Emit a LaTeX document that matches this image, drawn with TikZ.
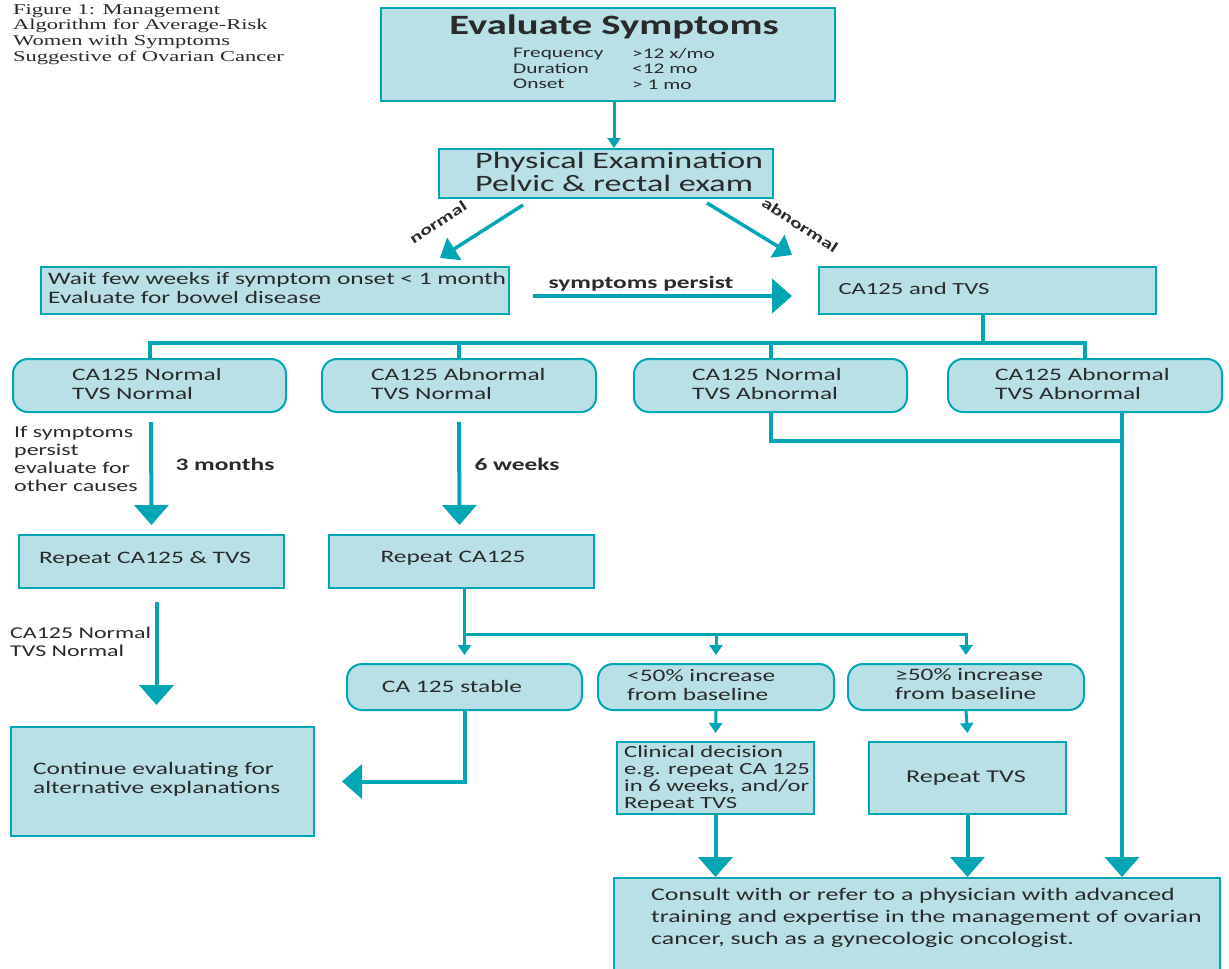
\documentclass[tikz,border=0pt]{standalone}
\usepackage{fontspec}
\usetikzlibrary{arrows.meta,calc}
\newfontfamily\bodyf[FakeStretch=1.45]{Carlito}
\newfontfamily\serf[FakeStretch=1.5]{Liberation Serif}
\definecolor{tealc}{HTML}{00A6B4}
\definecolor{fillc}{HTML}{B8E0E6}
\definecolor{txtc}{HTML}{2A2A2A}
\newcommand\fsz[2]{\fontsize{#1}{#2}\selectfont}
\begin{document}
\begin{tikzpicture}[x=1pt,y=-1pt,
  sq/.style={draw=tealc, line width=2pt, fill=fillc, inner sep=0pt, anchor=north west},
  rd/.style={sq, rounded corners=15pt},
  txt/.style={inner sep=0pt, text=txtc, font=\bodyf\fsz{17.5}{18.5}, align=left},
  lbl/.style={inner sep=0pt, text=txtc, font=\bodyf\bfseries\fsz{17.5}{19}},
  conn/.style={draw=tealc, line width=4pt},
  big/.style={conn, -{Triangle[width=34pt,length=20pt]}},
  mid/.style={draw=tealc, line width=3.5pt, -{Triangle[width=26pt,length=17pt]}},
  small/.style={draw=tealc, line width=3pt, -{Triangle[width=13pt,length=10pt]}}]
\useasboundingbox (0,0) rectangle (1229,969);
\fill[white] (0,0) rectangle (1229,969);

% boxes
\node[sq, minimum width=454pt, minimum height=93pt] (eval) at (380,7) {};
\node[sq, minimum width=334pt, minimum height=49pt] (phys) at (438,148) {};
\node[sq, minimum width=468pt, minimum height=47pt] (wait) at (40,266) {};
\node[sq, minimum width=337pt, minimum height=47pt] (cat) at (818,266) {};
\node[rd, minimum width=273pt, minimum height=53pt] (b1) at (12,358) {};
\node[rd, minimum width=274pt, minimum height=53pt] (b2) at (321,358) {};
\node[rd, minimum width=273pt, minimum height=53pt] (b3) at (633,358) {};
\node[rd, minimum width=274pt, minimum height=53pt] (b4) at (947,358) {};
\node[sq, minimum width=265pt, minimum height=53pt] (r1) at (18,534) {};
\node[sq, minimum width=265pt, minimum height=53pt] (r2) at (328,534) {};
\node[sq, minimum width=303pt, minimum height=109pt] (cont) at (10,726) {};
\node[rd, minimum width=235pt, minimum height=46pt] (s1) at (346,663) {};
\node[rd, minimum width=236pt, minimum height=46pt] (s2) at (597,663) {};
\node[rd, minimum width=236pt, minimum height=46pt] (s3) at (847,663) {};
\node[sq, minimum width=197pt, minimum height=72pt] (cd) at (616,741) {};
\node[sq, minimum width=197pt, minimum height=72pt] (rt) at (868,741) {};
\node[sq, minimum width=606pt, minimum height=100pt] (cons) at (613,877) {};

% texts
\node[inner sep=0pt, anchor=north west, align=left, text=txtc, font=\serf\fsz{15}{15.7}] (ttl) at (13,4)
  {Figure 1: Management\\Algorithm for Average-Risk\\Women with Symptoms\\Suggestive of Ovarian Cancer};
\node[txt, font=\bodyf\bfseries\fsz{28}{30}] (teval) at (614,27) {Evaluate Symptoms};
\node[txt, anchor=north west, font=\bodyf\fsz{14.7}{15.5}] (tfreq) at (513,48) {Frequency\\Duration\\Onset};
\node[txt, anchor=north west, font=\bodyf\fsz{14.7}{15.5}] (tfreqv) at (632,48) {>12 x/mo\\<12 mo\\> 1 mo};
\node[txt, anchor=west, font=\bodyf\fsz{23.5}{23}] (tphys) at (475,172) {Physical Examination\\Pelvic \& rectal exam};
\node[txt, anchor=west, font=\bodyf\fsz{17.5}{19}] (twait) at (48,288) {Wait few weeks if symptom onset < 1 month\\Evaluate for bowel disease};
\node[lbl] (tsp) at (641,284) {symptoms persist};
\node[txt, font=\bodyf\fsz{17}{18}] (tcat) at (914,289) {CA125 and TVS};
\node[txt, anchor=west] (tb1) at (72,384) {CA125 Normal\\TVS Normal};
\node[txt, anchor=west] (tb2) at (371,384) {CA125 Abnormal\\TVS Normal};
\node[txt, anchor=west] (tb3) at (692,384) {CA125 Normal\\TVS Abnormal};
\node[txt, anchor=west] (tb4) at (995,384) {CA125 Abnormal\\TVS Abnormal};
\node[txt, anchor=north west, font=\bodyf\fsz{16.5}{18}] (tif) at (14,426) {If symptoms\\persist\\evaluate for\\other causes};
\node[lbl] (t3m) at (225,464) {3 months};
\node[lbl] (t6w) at (517,464) {6 weeks};
\node[txt] (tr1) at (145,559) {Repeat CA125 \& TVS};
\node[txt] (tr2) at (453,558) {Repeat CA125};
\node[txt, anchor=north west, font=\bodyf\fsz{16.5}{18}] (tnn) at (10,627) {CA125 Normal\\TVS Normal};
\node[txt, anchor=west, font=\bodyf\fsz{17.5}{19}] (tcont) at (33,779) {Continue evaluating for\\alternative explanations};
\node[txt] (ts1) at (452,686) {CA 125 stable};
\node[txt, anchor=west] (ts2) at (627,685) {<50\% increase\\from baseline};
\node[txt, anchor=west] (ts3) at (895,684) {≥50\% increase\\from baseline};
\node[txt, anchor=north west, font=\bodyf\fsz{17}{17}] (tcd) at (624,745) {Clinical decision\\e.g. repeat CA 125\\in 6 weeks, and/or\\Repeat TVS};
\node[txt, font=\bodyf\fsz{18}{19}] (trt) at (966,778) {Repeat TVS};
\node[txt, anchor=north west, font=\bodyf\fsz{17.8}{22}] (tcons) at (651,888) {Consult with or refer to a physician with advanced\\training and expertise in the management of ovarian\\cancer, such as a gynecologic oncologist.};

% rotated labels
\node[txt, rotate=33, font=\bodyf\bfseries\fsz{15}{16}] (tnorm) at (438,222) {normal};
\node[txt, rotate=-33, font=\bodyf\bfseries\fsz{15}{16}] (tabn) at (800,225) {abnormal};

% connectors
\coordinate (ev1) at (614,100);
\draw[small] (ev1) -- (ev1 |- phys.north);
\coordinate (n1) at (523,205); \coordinate (n2) at (440,258);
\draw[mid] (n1) -- (n2);
\coordinate (a1) at (707,203); \coordinate (a2) at (792,255);
\draw[mid] (a1) -- (a2);
\coordinate (sp1) at (533,296); \coordinate (sp2) at (792,296);
\draw[big] (sp1) -- (sp2);

\coordinate (catd) at (983,313);
\draw[conn] (catd) -- (983,343);
\draw[conn] (b1.north) -- ++(0,-15) -| (b4.north);
\draw[conn] (b2.north) -- ++(0,-15);
\draw[conn] (b3.north) -- ++(0,-15);

\coordinate (j) at (1122,441);
\draw[conn] (b3.south) |- (j);
\draw[big] (b4.south -| j) -- (cons.north -| j);

\draw[big] ($(b1.south)+(1.5,9)$) -- ($(r1.north)+(0,-9)$);
\draw[big] ($(b2.south)+(0,9)$) -- ($(r2.north)+(-2,-9)$);
\draw[big] ($(r1.south)+(5,13)$) -- ($(r1.south |- cont.north)+(5,-21)$);

\draw[small] (r2.south -| s1.north) -- ($(s1.north)+(0,-8)$);
\draw[small] ($(r2.south -| s1.north)+(0,45)$) -| ($(s3.north)+(0,-8)$);
\draw[small] (r2.south -| s2.north) ++(0,45) -- ($(s2.north)+(0,-8)$);
\draw[big] (s1.south) |- ($(cont.east)+(27,0)$);
\draw[small] (s2.south) -- ($(cd.north)+(0,-8)$);
\draw[small] (s3.south) -- ($(rt.north)+(0,-8)$);
\draw[big] (cd.south) -- (cd.south |- cons.north);
\draw[big] (rt.south) -- (rt.south |- cons.north);
\end{tikzpicture}
\end{document}
